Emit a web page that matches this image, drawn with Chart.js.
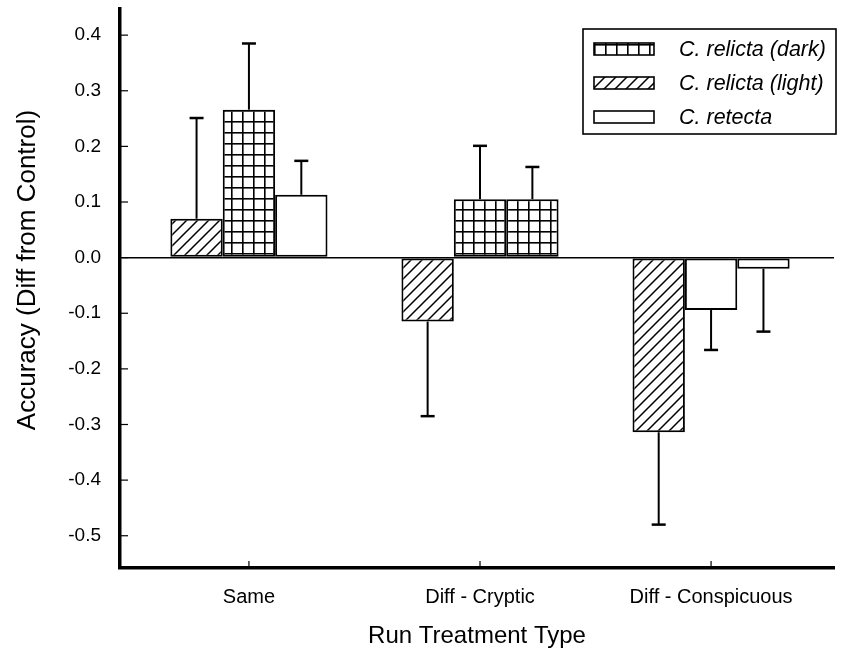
<!DOCTYPE html>
<html><head><meta charset="utf-8">
<script src="https://cdn.jsdelivr.net/npm/chart.js@4.4.0/dist/chart.umd.min.js"></script>
<style>html,body{margin:0;padding:0;background:#fff;}#wrap{width:841px;height:657px;}</style>
</head><body><div id="wrap"><canvas id="c" width="841" height="657"></canvas></div>
<script>
// ---- data ----
const CATEGORIES = ['Same', 'Diff - Cryptic', 'Diff - Conspicuous'];
const SERIES_NAMES = ['C. relicta (dark)', 'C. relicta (light)', 'C. retecta'];
const LIGHT_VALUES = [0.070, -0.115, -0.314];
const LIGHT_ERRORS = [0.181, 0.170, 0.166];
const DARK_VALUES = [0.266, 0.105, -0.094];
const DARK_ERRORS = [0.119, 0.096, 0.072];
const RETECTA_VALUES = [0.113, 0.105, -0.020];
const RETECTA_ERRORS = [0.061, 0.058, 0.113];
const Y_TICKS = [-0.5, -0.4, -0.3, -0.2, -0.1, 0.0, 0.1, 0.2, 0.3, 0.4];
const X_TITLE = 'Run Treatment Type';
const Y_TITLE = 'Accuracy (Diff from Control)';

// ---- styling ----
const FONT = 'Liberation Sans, Arial, Helvetica, sans-serif';
const FILL_LIGHT = ['hatch', 'hatch', 'hatch'];
const FILL_DARK = ['grid', 'grid', 'plain'];
const FILL_RETECTA = ['plain', 'grid', 'plain'];
const LEGEND_FILLS = ['grid', 'hatch', 'plain'];

function makeHatch() {
  const s = 11, c = document.createElement('canvas'); c.width = s; c.height = s;
  const g = c.getContext('2d');
  g.fillStyle = '#fff'; g.fillRect(0, 0, s, s);
  g.strokeStyle = '#000'; g.lineWidth = 1.5;
  g.beginPath();
  g.moveTo(-2, s + 2); g.lineTo(s + 2, -2);
  g.moveTo(-s / 2 - 2, s / 2 + 2); g.lineTo(s / 2 + 2, -s / 2 - 2);
  g.moveTo(s / 2 - 2, 3 * s / 2 + 2); g.lineTo(3 * s / 2 + 2, s / 2 - 2);
  g.stroke();
  return g.createPattern(c, 'repeat');
}
function makeGrid() {
  const s = 11, c = document.createElement('canvas'); c.width = s; c.height = s;
  const g = c.getContext('2d');
  g.fillStyle = '#fff'; g.fillRect(0, 0, s, s);
  g.fillStyle = '#000';
  g.fillRect(0, 0, s, 1.6); g.fillRect(0, 0, 1.6, s);
  return g.createPattern(c, 'repeat');
}
const ctx = document.getElementById('c').getContext('2d');
const FILLS = { hatch: makeHatch(), grid: makeGrid(), plain: '#ffffff' };

function ds(label, values, errors, fills) {
  return {
    label: label,
    data: values.map((v, i) => ({ x: i, y: v })),
    errors: errors,
    backgroundColor: fills.map(f => FILLS[f]),
    borderColor: '#000', borderWidth: 2, borderSkipped: false
  };
}

const errorBars = {
  id: 'errorBars',
  afterDatasetsDraw(chart) {
    const c = chart.ctx, ys = chart.scales.y;
    c.save(); c.strokeStyle = '#000';
    chart.data.datasets.forEach((d, di) => {
      chart.getDatasetMeta(di).data.forEach((bar, i) => {
        const v = d.data[i].y, e = d.errors[i];
        const end = v >= 0 ? v + e : v - e;
        const y0 = ys.getPixelForValue(v), y1 = ys.getPixelForValue(end);
        c.lineWidth = 2;
        c.beginPath(); c.moveTo(bar.x, y0); c.lineTo(bar.x, y1); c.stroke();
        c.lineWidth = 2.5;
        c.beginPath(); c.moveTo(bar.x - 7, y1); c.lineTo(bar.x + 7, y1); c.stroke();
      });
    });
    c.restore();
  }
};

const innerTicks = {
  id: 'innerTicks',
  afterDraw(chart) {
    const c = chart.ctx, a = chart.chartArea, xs = chart.scales.x, ys = chart.scales.y;
    c.save(); c.strokeStyle = '#000'; c.lineWidth = 1.2;
    Y_TICKS.forEach(v => {
      const p = ys.getPixelForValue(v);
      c.beginPath(); c.moveTo(a.left, p); c.lineTo(a.left + 8, p); c.stroke();
    });
    CATEGORIES.forEach((_, i) => {
      const p = xs.getPixelForValue(i);
      c.beginPath(); c.moveTo(p, a.bottom); c.lineTo(p, a.bottom - 7); c.stroke();
    });
    c.restore();
  }
};

const yTitle = {
  id: 'yTitle',
  afterDraw(chart) {
    const c = chart.ctx;
    c.save();
    c.translate(28, 270);
    c.rotate(-Math.PI / 2);
    c.fillStyle = '#000';
    c.font = '26px ' + FONT;
    c.textAlign = 'center'; c.textBaseline = 'middle';
    c.fillText(Y_TITLE, 0, 0);
    c.restore();
  }
};

const boxLegend = {
  id: 'boxLegend',
  afterDraw(chart) {
    const c = chart.ctx;
    const bx = 583, by = 29, bw = 253, bh = 105;
    c.save();
    c.strokeStyle = '#000'; c.lineWidth = 1.6;
    c.strokeRect(bx, by, bw, bh);
    SERIES_NAMES.forEach((name, i) => {
      const cy = 49 + i * 34;
      c.fillStyle = FILLS[LEGEND_FILLS[i]];
      c.fillRect(594, cy - 6, 60, 12);
      c.lineWidth = 1.6; c.strokeRect(594, cy - 6, 60, 12);
      c.fillStyle = '#000';
      c.font = 'italic 21.5px ' + FONT;
      c.textBaseline = 'middle'; c.textAlign = 'left';
      c.fillText(name, 679, cy + 1);
    });
    c.restore();
  }
};

new Chart(ctx, {
  type: 'bar',
  data: {
    datasets: [
      ds(SERIES_NAMES[1], LIGHT_VALUES, LIGHT_ERRORS, FILL_LIGHT),
      ds(SERIES_NAMES[0], DARK_VALUES, DARK_ERRORS, FILL_DARK),
      ds(SERIES_NAMES[2], RETECTA_VALUES, RETECTA_ERRORS, FILL_RETECTA)
    ]
  },
  options: {
    responsive: false, animation: false,
    layout: { padding: { top: 9, right: 7, left: 0, bottom: 0 } },
    categoryPercentage: 0.68, barPercentage: 1,
    plugins: { legend: { display: false }, tooltip: { enabled: false } },
    scales: {
      x: {
        type: 'linear', min: -0.558, max: 2.532, offset: false,
        grid: { display: false, drawTicks: false, offset: false },
        border: { color: '#000', width: 3.5 },
        afterBuildTicks: s => { s.ticks = CATEGORIES.map((_, i) => ({ value: i })); },
        afterFit: s => { s.height = 89; s.paddingLeft = 0; s.paddingRight = 0; },
        ticks: { padding: 17, color: '#000', font: { family: FONT, size: 20 }, callback: v => CATEGORIES[v] },
        title: { display: true, text: X_TITLE, color: '#000', font: { family: FONT, size: 24 }, padding: { top: 0, bottom: 6 } }
      },
      y: {
        min: -0.558, max: 0.447,
        afterBuildTicks: s => { s.ticks = Y_TICKS.map(v => ({ value: v })); },
        afterFit: s => { s.width = 120; s.paddingTop = 0; s.paddingBottom = 0; },
        grid: {
          drawTicks: false,
          color: c => (c.tick && Math.abs(c.tick.value) < 1e-9) ? '#000' : 'rgba(0,0,0,0)',
          lineWidth: 1.6
        },
        border: { color: '#000', width: 3.5 },
        ticks: { padding: 19, color: '#000', font: { family: FONT, size: 19 }, callback: v => Number(v).toFixed(1) },
        title: { display: false }
      }
    }
  },
  plugins: [errorBars, innerTicks, yTitle, boxLegend]
});
</script></body></html>
